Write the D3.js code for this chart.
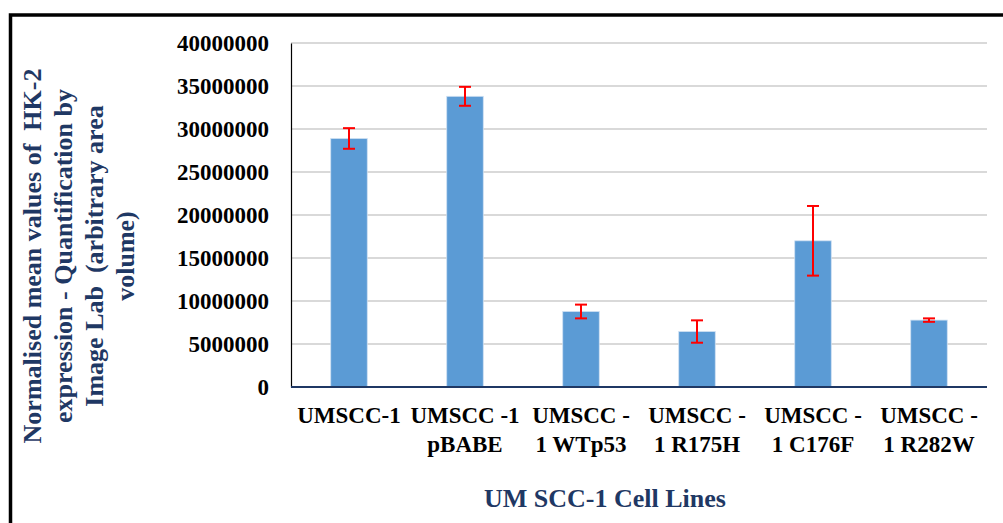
<!DOCTYPE html>
<html>
<head>
<meta charset="utf-8">
<script src="https://cdn.jsdelivr.net/npm/d3@7"></script>
<style>
    body { margin: 0; background: #fff; }
    text { font-family: "Liberation Serif", "Times New Roman", serif; font-weight: bold; }
</style>
</head>
<body>
<div id="chart"></div>
<script>
// chart data
var categories = [
    ["UMSCC-1"],
    ["UMSCC -1", "pBABE"],
    ["UMSCC -", "1 WTp53"],
    ["UMSCC -", "1 R175H"],
    ["UMSCC -", "1 C176F"],
    ["UMSCC -", "1 R282W"]
];
var values = [28900000, 33800000, 8780000, 6450000, 17000000, 7780000];
var errors = [1200000, 1100000, 800000, 1300000, 4050000, 200000];
var yTicks = [0, 5000000, 10000000, 15000000, 20000000, 25000000, 30000000, 35000000, 40000000];
var yTitle = ["Normalised mean values of  HK-2", "expression - Quantification by", "Image Lab  (arbitrary area", "volume)"];
var xTitle = "UM SCC-1 Cell Lines";

function init() {
    var w = 1003;
    var h = 523;
    var left = 291, right = 987, top = 43, bottom = 387;
    var navy = "#1f3864";

    var svg = d3.select("#chart")
        .append("svg")
        .attr("width", w)
        .attr("height", h);

    // outer frame, runs off the right and bottom edge
    svg.append("rect")
        .attr("x", 10.5)
        .attr("y", 15)
        .attr("width", 1100)
        .attr("height", 600)
        .attr("fill", "none")
        .attr("stroke", "#000")
        .attr("stroke-width", 3.5);

    var xScale = d3.scaleBand()
        .domain(d3.range(values.length))
        .range([left, right])
        .paddingInner(0.685)
        .paddingOuter(0.3425);

    var yScale = d3.scaleLinear()
        .domain([0, 40000000])
        .range([bottom, top]);

    // gridlines
    svg.selectAll(".grid")
        .data(yTicks.slice(1))
        .enter()
        .append("line")
        .attr("class", "grid")
        .attr("x1", left)
        .attr("x2", right)
        .attr("y1", function(d) { return yScale(d); })
        .attr("y2", function(d) { return yScale(d); })
        .attr("stroke", "#d9d9d9")
        .attr("stroke-width", 2);

    // y axis: plain line + labels
    var yAxis = d3.axisLeft(yScale)
        .tickValues(yTicks)
        .tickSize(0)
        .tickPadding(22)
        .tickFormat(function(d) { return d; });

    var gy = svg.append("g")
        .attr("transform", "translate(" + left + ",0)")
        .call(yAxis);
    gy.select(".domain").attr("stroke", "#000").attr("stroke-width", 1.2);
    gy.selectAll("text")
        .attr("font-family", "Liberation Serif")
        .attr("font-weight", "bold")
        .attr("font-size", 23)
        .attr("fill", "#000");

    // bars
    svg.selectAll(".bar")
        .data(values)
        .enter()
        .append("rect")
        .attr("class", "bar")
        .attr("x", function(d, i) { return xScale(i); })
        .attr("y", function(d) { return yScale(d); })
        .attr("width", xScale.bandwidth())
        .attr("height", function(d) { return bottom - yScale(d); })
        .attr("fill", "#5b9bd5")
        .attr("stroke", "#cfe0f2")
        .attr("stroke-width", 0.8);

    // error bars
    var eb = svg.selectAll(".err")
        .data(values)
        .enter()
        .append("g")
        .attr("class", "err")
        .attr("stroke", "#ff0000")
        .attr("stroke-width", 2);
    var cx = function(i) { return xScale(i) + xScale.bandwidth() / 2; };
    eb.append("line")
        .attr("x1", function(d, i) { return cx(i); })
        .attr("x2", function(d, i) { return cx(i); })
        .attr("y1", function(d, i) { return yScale(d + errors[i]); })
        .attr("y2", function(d, i) { return yScale(d - errors[i]); });
    eb.append("line")
        .attr("x1", function(d, i) { return cx(i) - 6; })
        .attr("x2", function(d, i) { return cx(i) + 6; })
        .attr("y1", function(d, i) { return yScale(d + errors[i]); })
        .attr("y2", function(d, i) { return yScale(d + errors[i]); });
    eb.append("line")
        .attr("x1", function(d, i) { return cx(i) - 6; })
        .attr("x2", function(d, i) { return cx(i) + 6; })
        .attr("y1", function(d, i) { return yScale(d - errors[i]); })
        .attr("y2", function(d, i) { return yScale(d - errors[i]); });

    // baseline
    svg.append("line")
        .attr("x1", left)
        .attr("x2", right)
        .attr("y1", bottom)
        .attr("y2", bottom)
        .attr("stroke", navy)
        .attr("stroke-width", 2);

    // category labels, two lines each
    var labels = svg.selectAll(".xlabel")
        .data(categories)
        .enter()
        .append("text")
        .attr("class", "xlabel")
        .attr("text-anchor", "middle")
        .attr("font-size", 23)
        .attr("fill", "#000")
        .attr("transform", function(d, i) { return "translate(" + cx(i) + ",423)"; });
    labels.selectAll("tspan")
        .data(function(d) { return d; })
        .enter()
        .append("tspan")
        .attr("x", 0)
        .attr("y", function(d, j) { return j * 28.5; })
        .text(function(d) { return d; });

    // axis titles
    svg.append("text")
        .attr("x", 605)
        .attr("y", 507)
        .attr("text-anchor", "middle")
        .attr("font-size", 26)
        .attr("fill", navy)
        .text(xTitle);

    var lineX = [32, 63, 94, 125];
    svg.selectAll(".ytitle")
        .data(yTitle)
        .enter()
        .append("text")
        .attr("class", "ytitle")
        .attr("transform", function(d, i) { return "translate(" + lineX[i] + ",256) rotate(-90)"; })
        .attr("text-anchor", "middle")
        .attr("dy", "0.35em")
        .attr("font-size", 26)
        .attr("fill", navy)
        .style("white-space", "pre")
        .text(function(d) { return d; });
}

window.onload = init;
</script>
</body>
</html>
